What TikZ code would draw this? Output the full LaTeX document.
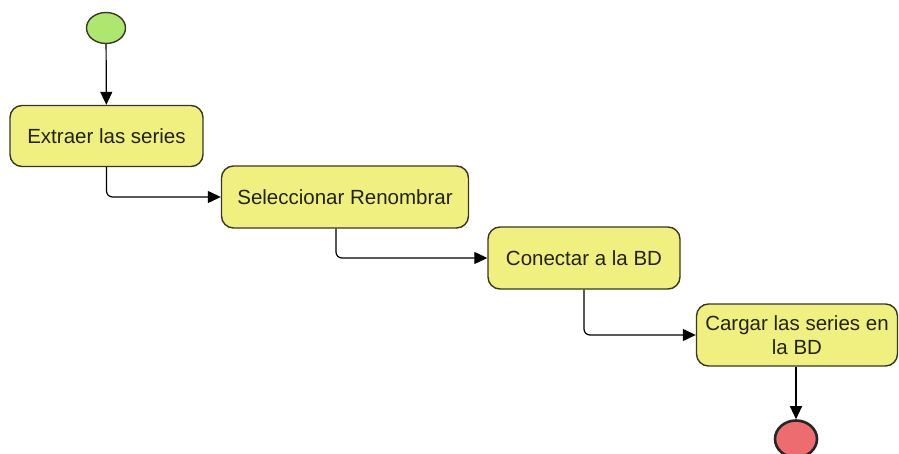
\documentclass[tikz,border=0pt]{standalone}
\usepackage{fontspec}
\setmainfont{Liberation Sans}
\usetikzlibrary{arrows.meta,calc,shapes.geometric}
\definecolor{actfill}{RGB}{240,240,128}
\definecolor{actline}{RGB}{55,55,35}
\definecolor{startfill}{RGB}{172,232,112}
\definecolor{endfill}{RGB}{236,108,112}
\definecolor{txt}{RGB}{35,35,20}
\tikzset{
  activity/.style={draw=actline, line width=1.4pt, fill=actfill, rounded corners=12pt,
    inner sep=2pt, align=center, text=txt, font=\fontsize{20.5}{24.5}\selectfont},
  initnode/.style={ellipse, draw=actline, line width=1.4pt, fill=startfill,
    minimum width=39pt, minimum height=31pt, inner sep=0pt},
  finalnode/.style={ellipse, draw=black!85, line width=2.6pt, fill=endfill,
    minimum width=42pt, minimum height=37pt, inner sep=0pt},
  flow/.style={draw=black, line width=1.2pt, rounded corners=6pt,
    -{Triangle[length=13pt,width=12pt]}}
}
\begin{document}
\begin{tikzpicture}[x=1pt,y=-1pt]
  \useasboundingbox (0,0) rectangle (899,454);
  \node[initnode] (start) at (106,28) {};
  \node[activity, minimum width=193pt, minimum height=61pt] (b1) at (106.5,136) {Extraer las series};
  \node[activity, minimum width=247pt, minimum height=62pt] (b2) at (345,197) {Seleccionar Renombrar};
  \node[activity, minimum width=192pt, minimum height=62pt] (b3) at (584,258) {Conectar a la BD};
  \node[activity, minimum width=201pt, minimum height=62pt] (b4) at (797,335) {Cargar las series en\\la BD};
  \node[finalnode] (end) at (796,439) {};

  \draw[flow] (start) -- (b1);
  \draw[flow] (b1.south) |- (b2.west);
  \draw[flow] ($(b2.south)+(-9,0)$) |- (b3.west);
  \draw[flow] (b3.south) |- (b4.west);
  \draw[flow] ($(b4.south)+(-1,0)$) -- (end.north);
\end{tikzpicture}
\end{document}
